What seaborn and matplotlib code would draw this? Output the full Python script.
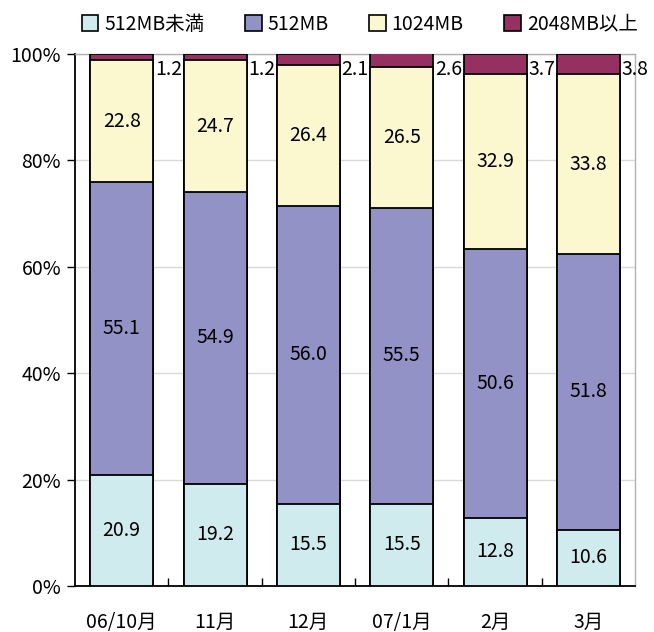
import numpy as np
import pandas as pd
import matplotlib
matplotlib.use("Agg")
import matplotlib.pyplot as plt
from matplotlib.patches import Patch
from matplotlib.ticker import FixedLocator, FuncFormatter
import seaborn as sns

# Memory capacity share by month (%)
months = ["06/10月", "11月", "12月", "07/1月", "2月", "3月"]
under_512 = [20.9, 19.2, 15.5, 15.5, 12.8, 10.6]
mb_512 = [55.1, 54.9, 56.0, 55.5, 50.6, 51.8]
mb_1024 = [22.8, 24.7, 26.4, 26.5, 32.9, 33.8]
over_2048 = [1.2, 1.2, 2.1, 2.6, 3.7, 3.8]

series_names = ["512MB未満", "512MB", "1024MB", "2048MB以上"]
series_values = [under_512, mb_512, mb_1024, over_2048]
series_colors = ["#CFEBEE", "#9392C6", "#FBF7CE", "#953060"]

sns.set_style("white")
plt.rcParams["font.family"] = ["Noto Sans CJK JP", "DejaVu Sans"]
plt.rcParams["text.color"] = "black"
plt.rcParams["xtick.color"] = "black"
plt.rcParams["ytick.color"] = "black"
plt.rcParams["xtick.labelcolor"] = "black"
plt.rcParams["ytick.labelcolor"] = "black"

fig = plt.figure(figsize=(6.54, 6.32), dpi=100)
ax = fig.add_axes([0.1147, 0.0728, 0.8563, 0.8418])

df = pd.DataFrame({name: vals for name, vals in zip(series_names, series_values)}, index=months)
cum = df.cumsum(axis=1)

# Stack by drawing cumulative totals from the top layer downward
for name, color in reversed(list(zip(series_names, series_colors))):
    sns.barplot(x=months, y=cum[name].values, order=months, color=color,
                saturation=1, edgecolor="black", linewidth=1.3, width=0.675,
                errorbar=None, ax=ax, zorder=3)

# Segment values
label_size = 14
for i, m in enumerate(months):
    for name in series_names[:3]:
        v = df.loc[m, name]
        ax.text(i, cum.loc[m, name] - v / 2, f"{v:.1f}", ha="center", va="center",
                fontsize=label_size, color="black", zorder=5)
    ax.text(i + 0.355, 97.0, f"{df.loc[m, series_names[3]]:.1f}", ha="left", va="center",
            fontsize=label_size, color="black", zorder=5)

ax.set_xlim(-0.5, 5.5)
ax.set_ylim(0, 100)
ax.yaxis.set_major_locator(FixedLocator([0, 20, 40, 60, 80, 100]))
ax.yaxis.set_major_formatter(FuncFormatter(lambda v, p: f"{int(v)}%"))
ax.grid(axis="y", color="#d9d9d9", linewidth=1.0, zorder=0)
ax.set_axisbelow(True)
ax.set_xlabel("")
ax.set_ylabel("")

for s in ["left", "bottom"]:
    ax.spines[s].set_color("black")
    ax.spines[s].set_linewidth(1.3)
for s in ["top", "right"]:
    ax.spines[s].set_color("#b0b0b0")
    ax.spines[s].set_linewidth(1.0)

ax.tick_params(axis="y", which="major", direction="out", length=6, width=1,
               color="black", labelcolor="black", labelsize=label_size, pad=4, left=True)
ax.tick_params(axis="x", which="major", length=0, labelcolor="black",
               labelsize=label_size, pad=19)
ax.xaxis.set_minor_locator(FixedLocator([0.5, 1.5, 2.5, 3.5, 4.5]))
ax.tick_params(axis="x", which="minor", direction="in", length=6, width=1,
               color="black", bottom=True)

handles = [Patch(facecolor=c, edgecolor="black", linewidth=1.2) for c in series_colors]
leg = fig.legend(handles, series_names, loc="center", bbox_to_anchor=(0.55, 0.962),
                 ncol=4, frameon=False, fontsize=label_size, handlelength=0.85,
                 handleheight=0.85, handletextpad=0.3, columnspacing=2.1,
                 borderpad=0)
for t in leg.get_texts():
    t.set_color("black")

fig.savefig("out.png", dpi=100)
